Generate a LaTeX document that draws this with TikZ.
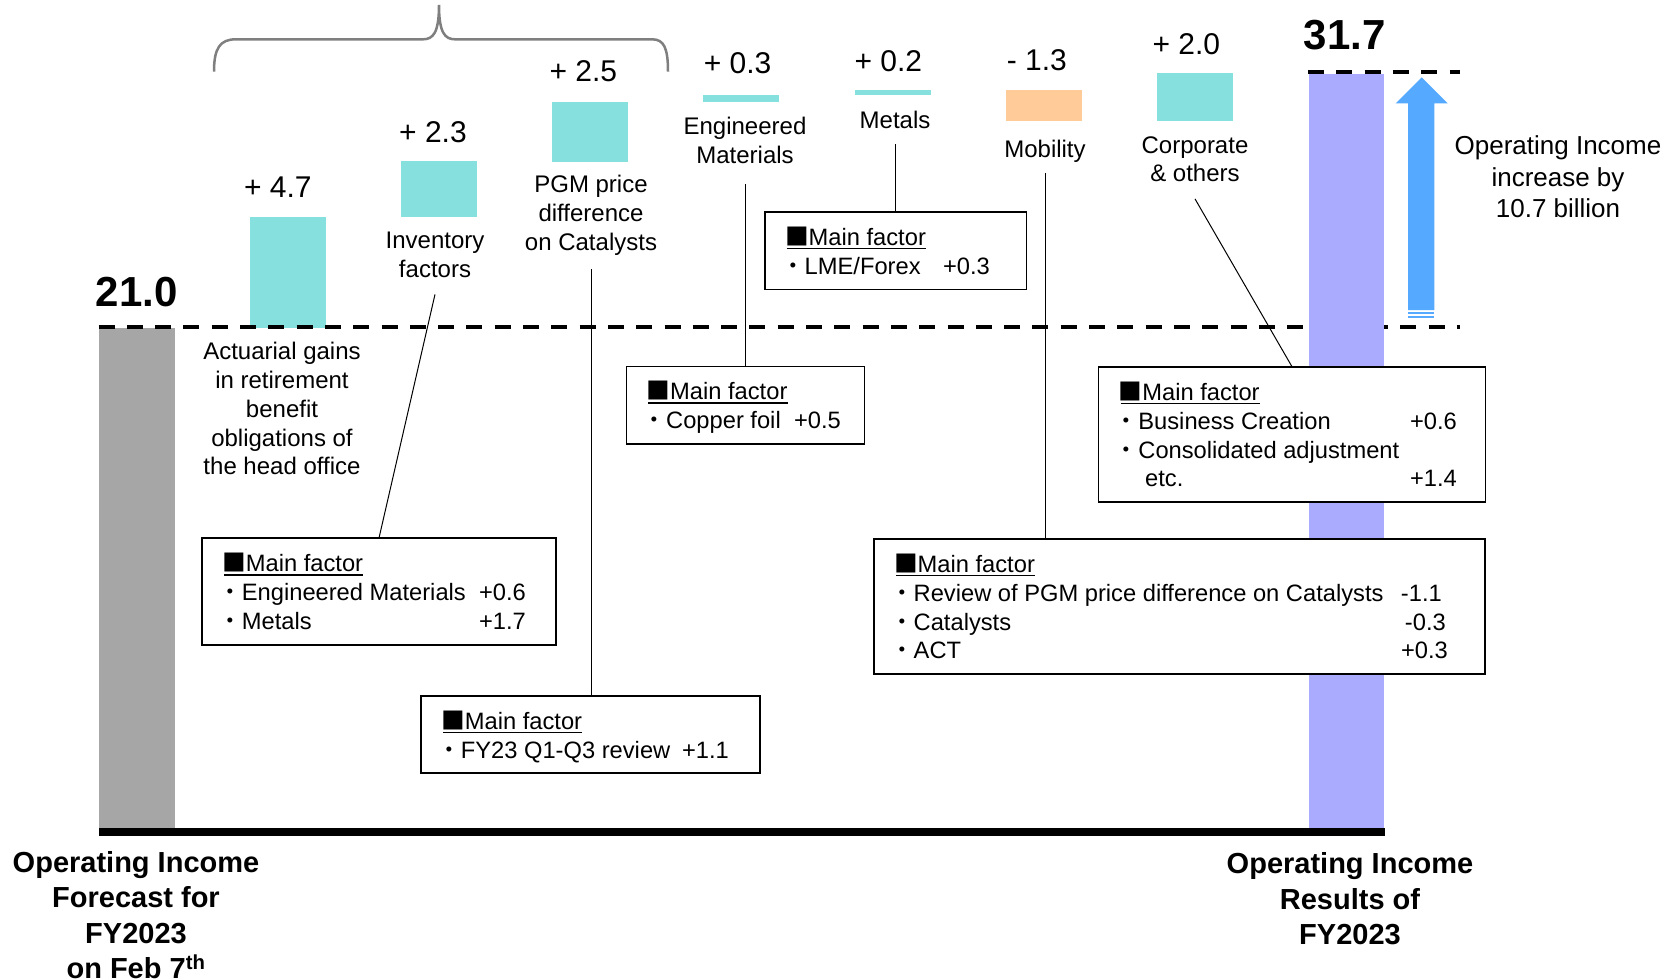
\documentclass[tikz,border=0pt]{standalone}
\usepackage{fontspec}
\setmainfont{Liberation Sans}
\newfontfamily\cjk{Noto Sans CJK JP}
\definecolor{barcyan}{RGB}{133,224,222}
\definecolor{barorange}{RGB}{255,204,153}
\definecolor{bargray}{RGB}{166,166,166}
\definecolor{barpurple}{RGB}{170,170,255}
\definecolor{arrowblue}{RGB}{85,170,255}
\definecolor{bracegray}{RGB}{127,127,127}
\newcommand{\mfac}{{\cjk ■}Main factor}
\newcommand{\bul}{{\cjk ・}}
\tikzset{
  val/.style={font=\fontsize{30}{36}\selectfont, inner sep=0pt},
  total/.style={font=\bfseries\fontsize{42}{50}\selectfont, inner sep=0pt},
  cat/.style={font=\fontsize{24}{28.8}\selectfont, align=center, inner sep=0pt},
  foot/.style={font=\bfseries\fontsize{29}{35.5}\selectfont, align=center, inner sep=0pt},
  note/.style={font=\fontsize{26}{31.65}\selectfont, align=center, inner sep=0pt},
  factbox/.style={draw, line width=1.6pt, fill=white, inner sep=0pt, outer sep=0pt},
  ftext/.style={font=\fontsize{23.7}{28.8}\selectfont, inner sep=0pt, anchor=base west},
  fnum/.style={font=\fontsize{23.7}{28.8}\selectfont, inner sep=0pt, anchor=base east},
  uline/.style={line width=1.4pt},
  conn/.style={line width=1pt},
  level/.style={line width=4.3pt, dash pattern=on 16pt off 12.3pt},
  bracket/.style={draw=bracegray, line width=2.5pt}
}
\begin{document}
\begin{tikzpicture}[x=1pt,y=-1pt]
\useasboundingbox (0,0) rectangle (1679,980);

% waterfall bars
\fill[bargray]   (98.5,328)  rectangle (174.5,836);
\fill[barcyan]   (250,217)   rectangle (326,328);
\fill[barcyan]   (401,161)   rectangle (477,217);
\fill[barcyan]   (552,102)   rectangle (628,161.7);
\fill[barcyan]   (703,95)    rectangle (779,101.7);
\fill[barcyan]   (855,90)    rectangle (931,94.7);
\fill[barorange] (1005.6,90) rectangle (1081.8,120.7);
\fill[barcyan]   (1157,73)   rectangle (1232.7,120.7);

% reference levels
\draw[level] (98.5,327) -- (1460,327);
\fill[barpurple] (1308.5,74) rectangle (1383.5,836);
\draw[level] (1308,72) -- (1460,72);

% axis
\fill[black] (98.5,828) rectangle (1384.5,836);

% brace over the first three items
\draw[bracket] (214,71.7) .. controls (214,48) and (220,39.3) .. (236,39.3)
  -- (423,39.3) .. controls (433,39.3) and (439,33) .. (439,5)
  .. controls (439,33) and (445,39.3) .. (455,39.3)
  -- (652,39.3) .. controls (664,39.3) and (668,48) .. (668,71.7);

% increase arrow
\fill[arrowblue] (1408,310) -- (1408,103.3) -- (1395.7,103.3) -- (1421.7,77.3)
  -- (1447.7,103.3) -- (1434.3,103.3) -- (1434.3,310) -- cycle;
\fill[arrowblue] (1408,312) rectangle (1434.3,314.2);
\fill[arrowblue] (1408,316) rectangle (1434.3,318.3);

% totals and deltas
\node[total] (v21)  at (136.8,292)  {21.0};
\node[total] (v317) at (1344.6,35.3) {31.7};
\node[val] (v47) at (277.8,187.5) {+ 4.7};
\node[val] (v23) at (433,131.7)   {+ 2.3};
\node[val] (v25) at (583.3,71.3)  {+ 2.5};
\node[val] (v03) at (737.6,63)    {+ 0.3};
\node[val] (v02) at (888.3,61)    {+ 0.2};
\node[val] (v13) at (1036.8,60.5) {- 1.3};
\node[val] (v20) at (1186.3,44.2) {+ 2.0};

% item labels
\node[cat] (lInv)  at (435,254.7)  {Inventory\\factors};
\node[cat] (lPGM)  at (591,215)    {PGM price\\difference\\on Catalysts};
\node[cat] (lEM)   at (745,140.4)  {Engineered\\Materials};
\node[cat] (lMet)  at (895,119.6)  {Metals};
\node[cat] (lMob)  at (1045,151)   {Mobility};
\node[cat] (lCorp) at (1195,159.2) {Corporate\\\& others};
\node[cat] (lAct)  at (282,408.75) {Actuarial gains\\in retirement\\benefit\\obligations of\\the head office};
\node[note] (lInc) at (1558,177)   {Operating Income\\increase by\\10.7 billion};
\node[foot] (fL) at (136,915) {Operating Income\\Forecast for\\FY2023\\on Feb 7\textsuperscript{th}};
\node[foot] (fR) at (1350,898.9) {Operating Income\\Results of\\FY2023};

% factor boxes
\node[factbox, minimum width=354pt,   minimum height=107pt]   (boxA) at (379,591.5)     {};
\node[factbox, minimum width=339pt,   minimum height=77pt]    (boxB) at (590.5,734.2)   {};
\node[factbox, minimum width=238.2pt, minimum height=77.7pt]  (boxC) at (745.4,405.15)  {};
\node[factbox, minimum width=261.7pt, minimum height=77.6pt]  (boxD) at (895.65,250.5)  {};
\node[factbox, minimum width=387pt,   minimum height=135.3pt] (boxE) at (1292,434.35)  {};
\node[factbox, minimum width=611.2pt, minimum height=135.3pt] (boxF) at (1179.4,606.35) {};

% box A
\node[ftext] (aH) at (222,571.5) {\mfac};
\node[ftext] (a1) at (218,600.4) {\bul Engineered Materials};
\node[fnum] (a1n) at (526,600.4) {+0.6};
\node[ftext] (a2) at (218,629.3) {\bul Metals};
\node[fnum] (a2n) at (526,629.3) {+1.7};
% box B
\node[ftext] (bH) at (441,729.2) {\mfac};
\node[ftext] (b1) at (437,758.1) {\bul FY23 Q1-Q3 review};
\node[fnum] (b1n) at (729,758.1) {+1.1};
% box C
\node[ftext] (cH) at (646.3,399.8) {\mfac};
\node[ftext] (c1) at (642.3,428.7) {\bul Copper foil};
\node[fnum] (c1n) at (841,428.7) {+0.5};
% box D
\node[ftext] (mH) at (784.8,245.2) {\mfac};
\node[ftext] (m1) at (780.8,274.1) {\bul LME/Forex};
\node[fnum] (m1n) at (990,274.1) {+0.3};
% box E
\node[ftext] (eH) at (1118.5,400.2) {\mfac};
\node[ftext] (e1) at (1114.5,429.1) {\bul Business Creation};
\node[fnum] (e1n) at (1457,429.1) {+0.6};
\node[ftext] (e2) at (1114.5,458) {\bul Consolidated adjustment};
\node[ftext] (e3) at (1145,486.9) {etc.};
\node[fnum] (e3n) at (1457,486.9) {+1.4};
% box F
\node[ftext] (fH) at (893.8,572.2) {\mfac};
\node[ftext] (f1) at (889.8,601.1) {\bul Review of PGM price difference on Catalysts};
\node[fnum] (f1n) at (1442,601.1) {-1.1};
\node[ftext] (f2) at (889.8,630) {\bul Catalysts};
\node[fnum] (f2n) at (1446,630) {-0.3};
\node[ftext] (f3) at (889.8,658.9) {\bul ACT};
\node[fnum] (f3n) at (1448,658.9) {+0.3};

% underlined headings
\foreach \h in {aH,bH,cH,mH,eH,fH}
  \draw[uline] ([xshift=2pt,yshift=-3.3pt]\h.base west) -- ([yshift=-3.3pt]\h.base east);

% leader lines
\draw[conn] ([yshift=-16.7pt]lInv.south) -- (boxA.north);
\draw[conn] ([yshift=-14pt]lPGM.south) -- (lPGM.south |- boxB.north);
\draw[conn] ([yshift=-20pt]lEM.south) -- (lEM.south |- boxC.north);
\draw[conn] ([yshift=-15.7pt]lMet.south) -- (lMet.south |- boxD.north);
\draw[conn] ([yshift=-11pt]lMob.south) -- (lMob.south |- boxF.north);
\draw[conn] ([yshift=-16.6pt]lCorp.south) -- (boxE.north);
\end{tikzpicture}
\end{document}
